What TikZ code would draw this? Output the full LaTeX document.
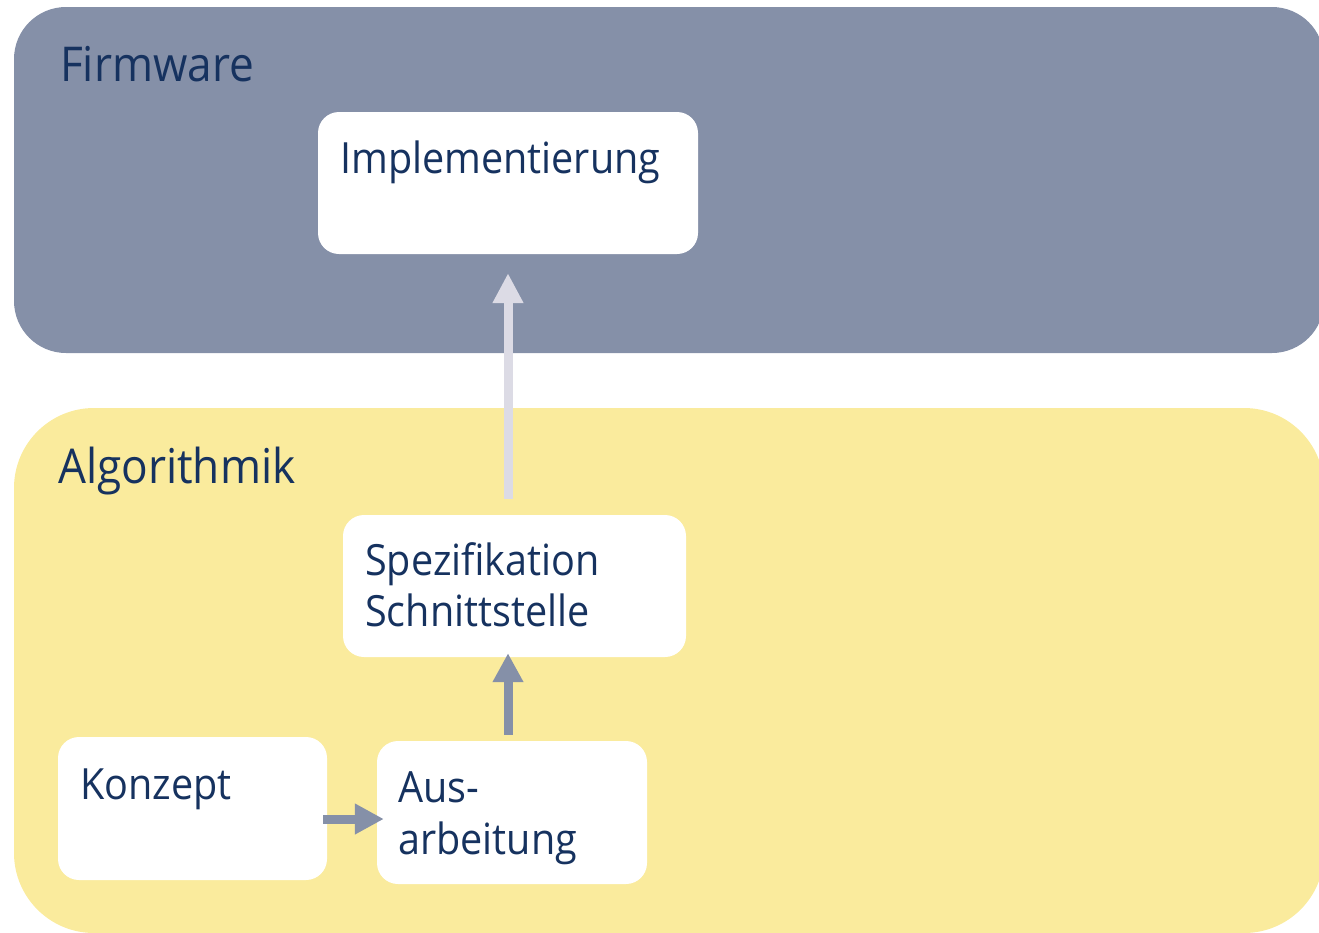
\documentclass[tikz,border=0pt]{standalone}
\usepackage{fontspec}
\setmainfont[FakeStretch=0.92]{Open Sans}
\usetikzlibrary{arrows.meta}
\definecolor{panelblue}{HTML}{8590A8}
\definecolor{panelyellow}{HTML}{FAEB9D}
\definecolor{lightarrow}{HTML}{DCDBE5}
\definecolor{navy}{HTML}{16325F}
\tikzset{
  box/.style={fill=white, rounded corners=21pt, inner sep=0, draw=none},
  title/.style={anchor=base west, inner sep=0, text=navy, font=\fontsize{48}{58}\selectfont},
  label/.style={anchor=base west, inner sep=0, text=navy, align=left, font=\fontsize{43}{51.5}\selectfont},
  arr/.style={line width=9pt, draw=panelblue, -{Triangle[length=29pt,width=29pt]}},
  larr/.style={line width=9pt, draw=lightarrow, -{Triangle[length=30pt,width=29pt]}},
}
\begin{document}
\begin{tikzpicture}[x=1pt,y=-1pt]
\useasboundingbox (0,0) rectangle (1319,932);
% panels
\fill[panelblue, rounded corners=52pt] (14,7) rectangle (1324,353);
\fill[panelyellow, rounded corners=80pt] (14,408) rectangle (1324,933);
\node[title] (tfw) at (60,81.5) {Firmware};
\node[title] (tal) at (58,483) {Algorithmik};
% boxes
\node[box, minimum width=380pt, minimum height=142pt] (impl) at (508,183) {};
\node[box, minimum width=343pt, minimum height=142pt] (spez) at (514.5,586) {};
\node[box, minimum width=269pt, minimum height=143pt] (konzept) at (192.5,808.5) {};
\node[box, minimum width=270pt, minimum height=143pt] (aus) at (512,812.5) {};
% labels (base = last line)
\node[label] (limpl) at (340,173.5) {Implementierung};
\node[label] (lspez) at (365,626.5) {Spezifikation\\Schnittstelle};
\node[label] (lkon) at (80,799) {Konzept};
\node[label] (laus) at (398,854) {Aus-\\arbeitung};
% connectors
\draw[larr, shorten <=16pt, shorten >=19pt] (impl.south |- spez.north) -- (impl.south);
\draw[arr, shorten <=6pt, shorten >=-4pt] (impl.south |- aus.north) -- (impl.south |- spez.south);
\coordinate (k1) at ([yshift=-10.5pt]konzept.east);
\draw[arr, shorten <=-4pt, shorten >=-7pt] (k1) -- (k1 -| aus.west);
\end{tikzpicture}
\end{document}
